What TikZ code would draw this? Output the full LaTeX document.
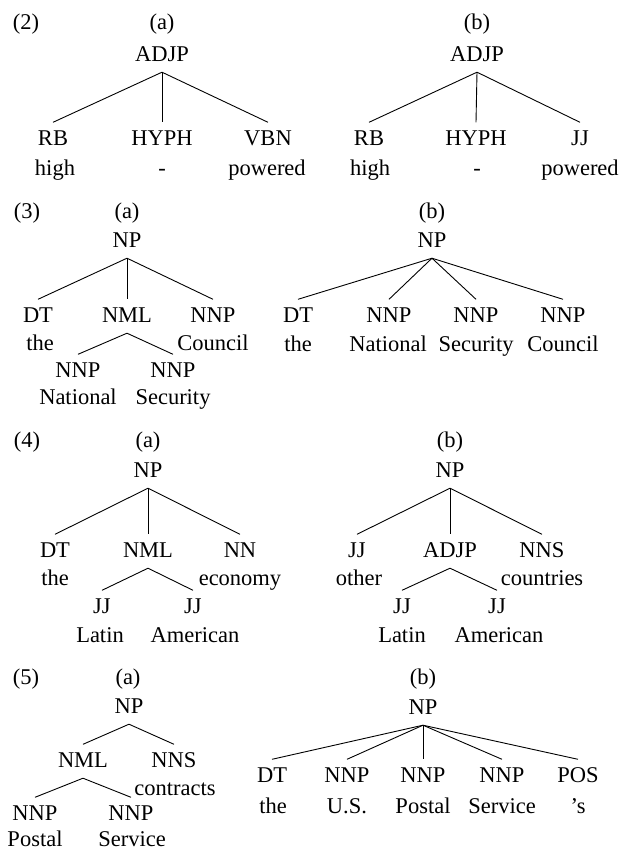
\documentclass[tikz,border=0pt]{standalone}
\usepackage{fontspec}
\setmainfont{Liberation Serif}
\begin{document}
\begin{tikzpicture}[x=1pt,y=-1pt,
  every node/.style={font=\fontsize{22.5pt}{27pt}\selectfont},
  tag/.style={anchor=base,text height=14.5pt,text depth=3pt,inner xsep=0pt,inner ysep=8pt},
  word/.style={anchor=base,inner sep=0pt},
  edge/.style={draw=black,line width=0.9pt}]
\useasboundingbox[fill=white] (0,0) rectangle (624,852);

% ---------- (2) ----------
\node[word] (ex2) at (26,29) {(2)};
\node[word] (l2a) at (162,29) {(a)};
\node[tag] (r2a) at (162,61) {ADJP};
\node[tag] (c2a1) at (53,145) {RB};
\node[tag] (c2a2) at (162,145) {HYPH};
\node[tag] (c2a3) at (268,145) {VBN};
\node[word] (w2a1) at (55,175) {high};
\node[word] (w2a2) at (162,175) {-};
\node[word] (w2a3) at (267,175) {powered};
\draw[edge] (r2a.south) -- (c2a1.north);
\draw[edge] (r2a.south) -- (c2a2.north);
\draw[edge] (r2a.south) -- (c2a3.north);

\node[word] (l2b) at (477,29) {(b)};
\node[tag] (r2b) at (477,61) {ADJP};
\node[tag] (c2b1) at (369,145) {RB};
\node[tag] (c2b2) at (476,145) {HYPH};
\node[tag] (c2b3) at (580,145) {JJ};
\node[word] (w2b1) at (370,175) {high};
\node[word] (w2b2) at (477,175) {-};
\node[word] (w2b3) at (580,175) {powered};
\draw[edge] (r2b.south) -- (c2b1.north);
\draw[edge] (r2b.south) -- (c2b2.north);
\draw[edge] (r2b.south) -- (c2b3.north);

% ---------- (3) ----------
\node[word] (ex3) at (27,218) {(3)};
\node[word] (l3a) at (127,218) {(a)};
\node[tag] (r3a) at (127,247) {NP};
\node[tag] (c3a1) at (38,322) {DT};
\node[tag] (c3a2) at (127,322) {NML};
\node[tag] (c3a3) at (213,322) {NNP};
\node[word] (w3a1) at (40,350) {the};
\node[word] (w3a3) at (213,350) {Council};
\node[tag] (g3a1) at (78,377) {NNP};
\node[tag] (g3a2) at (173,377) {NNP};
\node[word] (v3a1) at (78,404) {National};
\node[word] (v3a2) at (173,404) {Security};
\draw[edge] (r3a.south) -- (c3a1.north);
\draw[edge] (r3a.south) -- (c3a2.north);
\draw[edge] (r3a.south) -- (c3a3.north);
\draw[edge] (c3a2.south) -- (g3a1.north);
\draw[edge] (c3a2.south) -- (g3a2.north);

\node[word] (l3b) at (432,218) {(b)};
\node[tag] (r3b) at (432,247) {NP};
\node[tag] (c3b1) at (298,322) {DT};
\node[tag] (c3b2) at (389,322) {NNP};
\node[tag] (c3b3) at (476,322) {NNP};
\node[tag] (c3b4) at (563,322) {NNP};
\node[word] (w3b1) at (298,351) {the};
\node[word] (w3b2) at (388,351) {National};
\node[word] (w3b3) at (476,351) {Security};
\node[word] (w3b4) at (563,351) {Council};
\draw[edge] (r3b.south) -- (c3b1.north);
\draw[edge] (r3b.south) -- (c3b2.north);
\draw[edge] (r3b.south) -- (c3b3.north);
\draw[edge] (r3b.south) -- (c3b4.north);

% ---------- (4) ----------
\node[word] (ex4) at (27,447) {(4)};
\node[word] (l4a) at (148,447) {(a)};
\node[tag] (r4a) at (148,477) {NP};
\node[tag] (c4a1) at (55,557) {DT};
\node[tag] (c4a2) at (148,557) {NML};
\node[tag] (c4a3) at (240,557) {NN};
\node[word] (w4a1) at (55,585) {the};
\node[word] (w4a3) at (240,585) {economy};
\node[tag] (g4a1) at (102,613) {JJ};
\node[tag] (g4a2) at (193,613) {JJ};
\node[word] (v4a1) at (100,642) {Latin};
\node[word] (v4a2) at (195,642) {American};
\draw[edge] (r4a.south) -- (c4a1.north);
\draw[edge] (r4a.south) -- (c4a2.north);
\draw[edge] (r4a.south) -- (c4a3.north);
\draw[edge] (c4a2.south) -- (g4a1.north);
\draw[edge] (c4a2.south) -- (g4a2.north);

\node[word] (l4b) at (450,447) {(b)};
\node[tag] (r4b) at (450,477) {NP};
\node[tag] (c4b1) at (357,557) {JJ};
\node[tag] (c4b2) at (450,557) {ADJP};
\node[tag] (c4b3) at (542,557) {NNS};
\node[word] (w4b1) at (359,585) {other};
\node[word] (w4b3) at (542,585) {countries};
\node[tag] (g4b1) at (402,613) {JJ};
\node[tag] (g4b2) at (497,613) {JJ};
\node[word] (v4b1) at (402,642) {Latin};
\node[word] (v4b2) at (499,642) {American};
\draw[edge] (r4b.south) -- (c4b1.north);
\draw[edge] (r4b.south) -- (c4b2.north);
\draw[edge] (r4b.south) -- (c4b3.north);
\draw[edge] (c4b2.south) -- (g4b1.north);
\draw[edge] (c4b2.south) -- (g4b2.north);

% ---------- (5) ----------
\node[word] (ex5) at (26,684) {(5)};
\node[word] (l5a) at (128,684) {(a)};
\node[tag] (r5a) at (129,713) {NP};
\node[tag] (c5a1) at (83,767) {NML};
\node[tag] (c5a2) at (174,767) {NNS};
\node[word] (w5a2) at (175,795) {contracts};
\node[tag] (g5a1) at (35,820) {NNP};
\node[tag] (g5a2) at (131,820) {NNP};
\node[word] (v5a1) at (35,846) {Postal};
\node[word] (v5a2) at (132,846) {Service};
\draw[edge] (r5a.south) -- (c5a1.north);
\draw[edge] (r5a.south) -- (c5a2.north);
\draw[edge] (c5a1.south) -- (g5a1.north);
\draw[edge] (c5a1.south) -- (g5a2.north);

\node[word] (l5b) at (423,684) {(b)};
\node[tag] (r5b) at (423,714) {NP};
\node[tag] (c5b1) at (272,782) {DT};
\node[tag] (c5b2) at (347,782) {NNP};
\node[tag] (c5b3) at (423,782) {NNP};
\node[tag] (c5b4) at (502,782) {NNP};
\node[tag] (c5b5) at (578,782) {POS};
\node[word] (w5b1) at (273,813) {the};
\node[word] (w5b2) at (347,813) {U.S.};
\node[word] (w5b3) at (423,813) {Postal};
\node[word] (w5b4) at (502,813) {Service};
\node[word] (w5b5) at (578,813) {’s};
\draw[edge] (r5b.south) -- (c5b1.north);
\draw[edge] (r5b.south) -- (c5b2.north);
\draw[edge] (r5b.south) -- (c5b3.north);
\draw[edge] (r5b.south) -- (c5b4.north);
\draw[edge] (r5b.south) -- (c5b5.north);
\end{tikzpicture}
\end{document}
